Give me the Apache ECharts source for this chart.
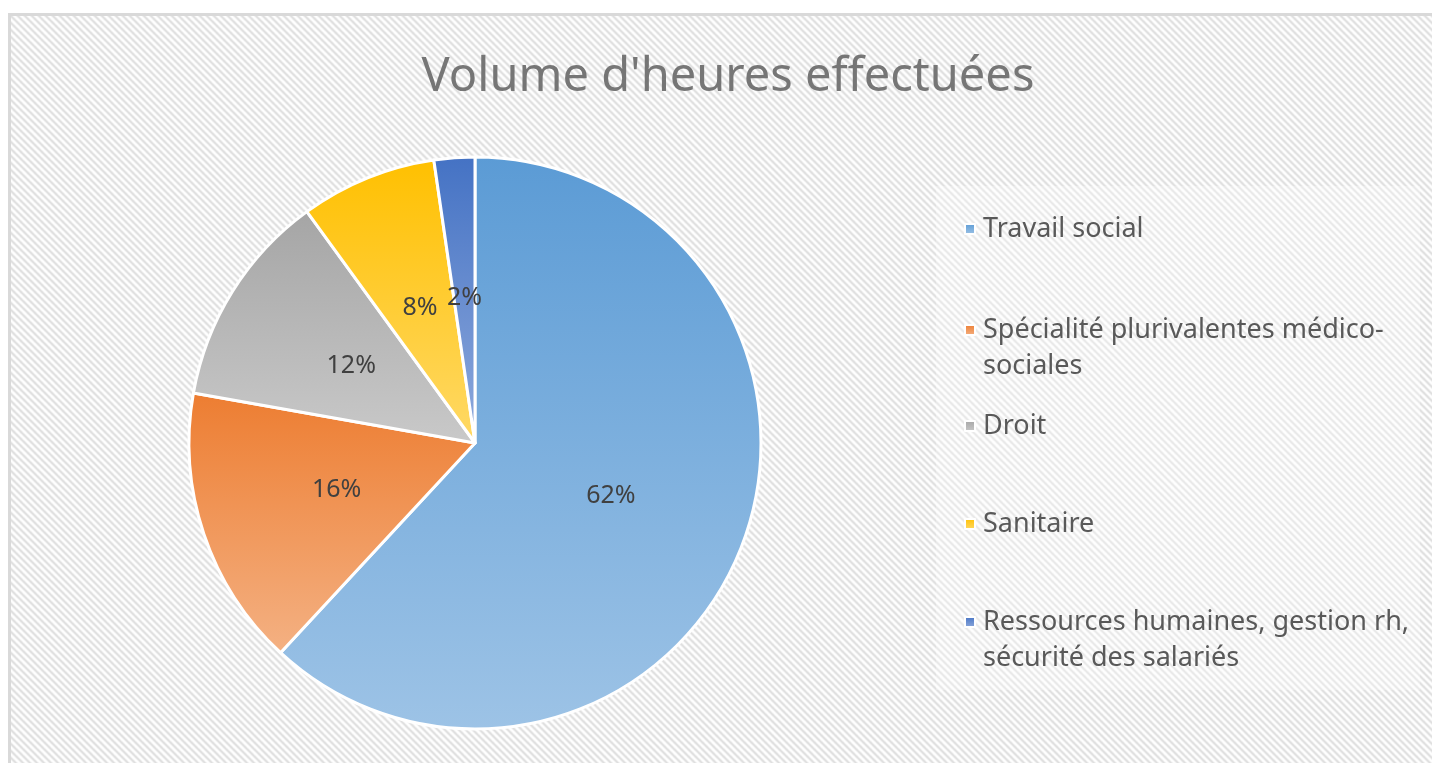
<!DOCTYPE html>
<html>
<head>
<meta charset="utf-8">
<script src="https://cdn.jsdelivr.net/npm/echarts@6/dist/echarts.min.js"></script>
<style>
  html, body { margin: 0; padding: 0; background: #fff; }
  #chart { width: 1432px; height: 763px; }
</style>
</head>
<body>
<div id="chart"></div>
<script>
const title = "Volume d'heures effectuées";
const categories = [
  'Travail social',
  'Spécialité plurivalentes médico-\nsociales',
  'Droit',
  'Sanitaire',
  'Ressources humaines, gestion rh,\nsécurité des salariés'
];
const values = [61.9, 15.9, 12.2, 7.7, 2.3];
const topColors = ['#5B9BD5', '#ED7D31', '#A5A5A5', '#FFC000', '#4472C4'];
const bottomColors = ['#9DC3E6', '#F4B183', '#C9C9C9', '#FFD966', '#8FAADC'];
// legend rows (center of first text line)
const legendRows = [224, 325, 421, 519, 617];

// diagonal hatch for the chart area
function hatch() {
  const c = document.createElement('canvas');
  c.width = 7; c.height = 7;
  const g = c.getContext('2d');
  g.fillStyle = '#ffffff';
  g.fillRect(0, 0, 7, 7);
  g.strokeStyle = '#dedede';
  g.lineWidth = 2.2;
  g.beginPath();
  g.moveTo(-2, -2); g.lineTo(9, 9);
  g.moveTo(-9, -2); g.lineTo(2, 9);
  g.moveTo(5, -2); g.lineTo(16, 9);
  g.stroke();
  return c;
}

const chart = echarts.init(document.getElementById('chart'));

const legends = categories.map((name, i) => {
  const twoLines = name.indexOf('\n') >= 0;
  return {
    orient: 'vertical',
    left: 959,
    top: legendRows[i] - (twoLines ? 54 : 18),
    data: [name],
    icon: 'rect',
    itemWidth: 10,
    itemHeight: 10,
    // extra blank line on top keeps the marker on the first text line
    formatter: n => (twoLines ? '\n' + n : n),
    textStyle: {
      fontFamily: 'Noto Sans',
      fontSize: 27,
      color: '#595959',
      lineHeight: 36,
      padding: [0, 0, 0, 3]
    }
  };
});

chart.setOption({
  backgroundColor: '#ffffff',
  graphic: [
    {
      type: 'rect',
      left: 8, top: 13,
      z: -10,
      shape: { width: 1440, height: 770 },
      style: { fill: { image: hatch(), repeat: 'repeat' }, stroke: '#d9d9d9', lineWidth: 3 },
      silent: true
    },
    {
      type: 'rect',
      left: 936, top: 186,
      z: -9,
      shape: { width: 484, height: 504 },
      style: { fill: 'rgba(255,255,255,0.3)' },
      silent: true
    }
  ],
  title: {
    text: title,
    left: 723,
    textAlign: 'center',
    top: 49,
    textStyle: {
      fontFamily: 'Noto Sans',
      fontSize: 47,
      fontWeight: 'normal',
      color: '#767676'
    }
  },
  legend: legends,
  series: [{
    type: 'pie',
    center: [475, 443],
    radius: 286,
    startAngle: 90,
    clockwise: true,
    avoidLabelOverlap: false,
    percentPrecision: 0,
    itemStyle: { borderColor: '#ffffff', borderWidth: 3 },
    label: {
      position: 'inside',
      formatter: '{d}%',
      fontFamily: 'Noto Sans',
      fontSize: 25,
      color: '#404040'
    },
    labelLine: { show: false },
    emphasis: { scale: false },
    data: categories.map((name, i) => ({
      name: name,
      value: values[i],
      itemStyle: {
        color: new echarts.graphic.LinearGradient(0, 0, 0, 1, [
          { offset: 0, color: topColors[i] },
          { offset: 1, color: bottomColors[i] }
        ])
      }
    }))
  }]
});
</script>
</body>
</html>
